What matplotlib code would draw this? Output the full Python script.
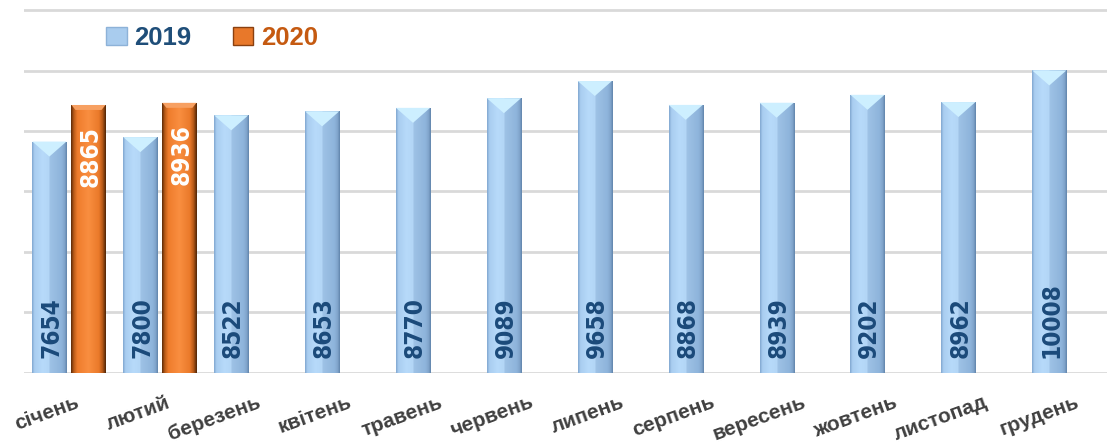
import numpy as np
import matplotlib
matplotlib.use("Agg")
import matplotlib.pyplot as plt
from matplotlib.colors import LinearSegmentedColormap
from matplotlib.patches import Polygon, Patch
from matplotlib.transforms import offset_copy

months = ["січень", "лютий", "березень", "квітень", "травень", "червень",
          "липень", "серпень", "вересень", "жовтень", "листопад", "грудень"]
values_2019 = [7654, 7800, 8522, 8653, 8770, 9089, 9658, 8868, 8939, 9202, 8962, 10008]
values_2020 = [8865, 8936]
series_names = ["2019", "2020"]

W, H = 1107, 445
fig = plt.figure(figsize=(W / 100, H / 100), dpi=100)
base_px = 72.3
ymax = 12100
ax_h_px = 362.4 * ymax / 12000
left_px = 23.5
cat_px = 90.9
ax = fig.add_axes([left_px / W, base_px / H, (W - left_px) / W, ax_h_px / H])
xmax = -0.5 + (W - left_px) / cat_px
ax.set_xlim(-0.5, xmax)
ax.set_ylim(0, ymax)
units_per_px = ymax / ax_h_px

for s in ax.spines.values():
    s.set_visible(False)
ax.set_xticks([])
ax.set_yticks(np.arange(0, 12001, 2000))
ax.tick_params(axis="y", length=0, labelleft=False)
ax.yaxis.grid(True, color="#D9D9D9", linewidth=2.0)
ax.set_axisbelow(True)

bar_w = 0.375
off = 0.215

blue_cmap = LinearSegmentedColormap.from_list("b", [
    (0.0, "#7FA6CF"), (0.07, "#A9CDF0"), (0.3, "#B7DAFA"), (0.49, "#B3D6F6"),
    (0.51, "#9EC2E6"), (0.85, "#8EB4DB"), (0.94, "#7FA3CA"), (1.0, "#5F83AA")])
orange_cmap = LinearSegmentedColormap.from_list("o", [
    (0.0, "#5A2A08"), (0.08, "#B85A18"), (0.18, "#EE7C2C"), (0.5, "#F98E40"),
    (0.8, "#EA7A2A"), (0.9, "#B85A18"), (1.0, "#4E2406")])
grad = np.linspace(0, 1, 256).reshape(1, -1)

x = np.arange(len(months))
label_font = ["DejaVu Sans"]


def draw_bars(xs, vals, cmap, kind):
    bars = ax.bar(xs, vals, width=bar_w, color="none", edgecolor="none", zorder=2)
    for b in bars:
        x0, w, h = b.get_x(), b.get_width(), b.get_height()
        im = ax.imshow(grad, cmap=cmap, extent=[x0, x0 + w, 0, h], aspect="auto",
                       zorder=2, interpolation="bilinear")
        im.set_clip_path(b)
        if kind == "blue":
            d = 15 * units_per_px
            tri = Polygon([[x0, h], [x0 + w, h], [x0 + w / 2, h - d]], closed=True,
                          facecolor="#CDEFFF", edgecolor="none", zorder=3)
            ax.add_patch(tri)
        else:
            e = 5 * units_per_px
            ex = w * 0.12
            band = Polygon([[x0, h], [x0 + w, h], [x0 + w - ex, h - e], [x0 + ex, h - e]],
                           closed=True, facecolor="#F7A062", edgecolor="none", zorder=3)
            ax.add_patch(band)
    return bars


draw_bars(x - off, values_2019, blue_cmap, "blue")
x20 = x[:len(values_2020)]
draw_bars(x20 + off, values_2020, orange_cmap, "orange")

# data labels
for xi, v in zip(x - off, values_2019):
    ax.text(xi + 0.02, 15 * units_per_px, f"{v}", rotation=90, ha="center", va="bottom",
            color="#1B4A7A", fontsize=17.5, fontweight="bold", family=label_font,
            fontstretch="condensed", zorder=5)
for xi, v in zip(x20 + off, values_2020):
    ax.text(xi + 0.02, v - 21 * units_per_px, f"{v}", rotation=90, ha="center", va="top",
            color="white", fontsize=17.5, fontweight="bold", family=label_font,
            fontstretch="condensed", zorder=5)

# category labels
tr = offset_copy(ax.transData, fig=fig, x=6, y=-20, units="dots")
for xi, m in zip(x, months):
    ax.text(xi, 0, m, transform=tr, rotation=20, rotation_mode="anchor",
            ha="right", va="top", fontsize=15, fontweight="bold", color="#404040",
            family=["Liberation Sans", "DejaVu Sans"])

handles = [Patch(facecolor="#A9CCEE", edgecolor="#8DB2D8"),
           Patch(facecolor="#E8782A", edgecolor="#8A4010")]
leg = fig.legend(handles, series_names, loc="center left",
                 bbox_to_anchor=(106 / W, 1 - 38 / H), ncol=2, frameon=False,
                 prop={"family": ["Liberation Sans", "DejaVu Sans"], "weight": "bold", "size": 18.5},
                 handlelength=0.8, handleheight=0.65, handletextpad=0.3,
                 columnspacing=1.6, borderpad=0, borderaxespad=0)
for t, c in zip(leg.get_texts(), ["#1F4E79", "#C55A11"]):
    t.set_color(c)

fig.savefig("out.png", dpi=100)
